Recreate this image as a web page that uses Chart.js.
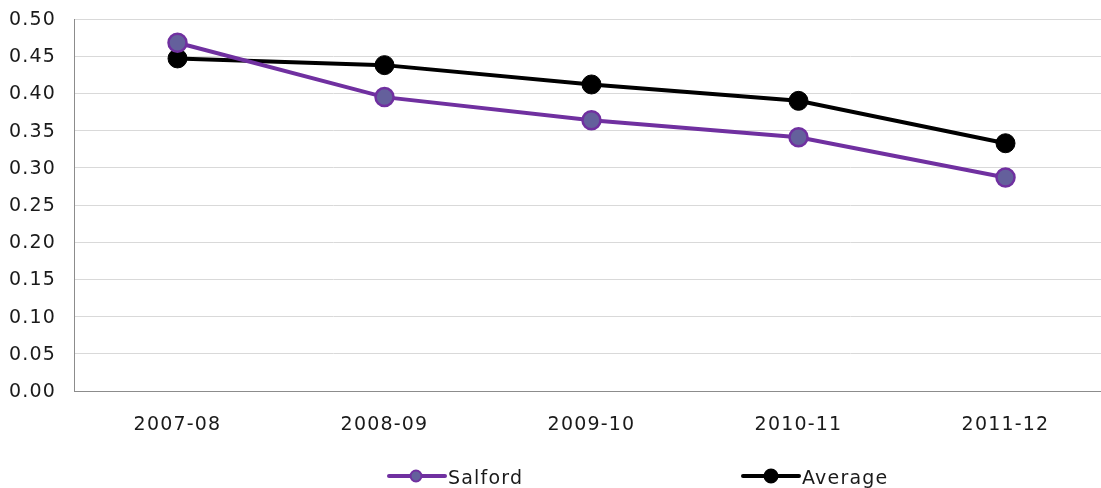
<!DOCTYPE html>
<html>
<head>
<meta charset="utf-8">
<script src="https://cdn.jsdelivr.net/npm/chart.js@4.4.0/dist/chart.umd.min.js"></script>
<style>
  html, body { margin: 0; padding: 0; background: #ffffff; overflow: hidden; }
  #wrap { position: absolute; left: 0; top: 0; width: 1110px; height: 488px; }
</style>
</head>
<body>
<div id="wrap"><canvas id="c"></canvas></div>
<script>
const categories = ['2007-08', '2008-09', '2009-10', '2010-11', '2011-12'];
const salfordValues = [0.468, 0.395, 0.364, 0.341, 0.287];
const averageValues = [0.447, 0.438, 0.412, 0.390, 0.333];
const seriesNames = ['Salford', 'Average'];

const FONT = 'DejaVu Sans, Verdana, sans-serif';
const SPACING = '1.2px';

const spacingPlugin = {
  id: 'spacing',
  beforeLayout(chart) { chart.ctx.letterSpacing = SPACING; },
  beforeDraw(chart) { chart.ctx.letterSpacing = SPACING; }
};

const legendPlugin = {
  id: 'customLegend',
  afterDraw(chart) {
    const ctx = chart.ctx;
    const items = [
      { x0: 389, x1: 445, cx: 416, tx: 448, ds: chart.data.datasets[0], r: 5.5 },
      { x0: 743, x1: 799, cx: 771, tx: 802, ds: chart.data.datasets[1], r: 6.5 }
    ];
    const y = 476;
    ctx.save();
    ctx.letterSpacing = SPACING;
    items.forEach(it => {
      ctx.strokeStyle = it.ds.borderColor;
      ctx.lineWidth = 4;
      ctx.lineCap = 'round';
      ctx.beginPath();
      ctx.moveTo(it.x0, y);
      ctx.lineTo(it.x1, y);
      ctx.stroke();
      ctx.beginPath();
      ctx.arc(it.cx, y, it.r, 0, Math.PI * 2);
      ctx.fillStyle = it.ds.pointBackgroundColor;
      ctx.fill();
      ctx.lineWidth = 2;
      ctx.strokeStyle = it.ds.pointBorderColor;
      ctx.stroke();
      ctx.fillStyle = '#1a1a1a';
      ctx.font = '19px ' + FONT;
      ctx.textAlign = 'left';
      ctx.textBaseline = 'middle';
      ctx.fillText(it.ds.label, it.tx, y + 3);
    });
    ctx.restore();
  }
};

new Chart(document.getElementById('c'), {
  type: 'line',
  data: {
    labels: categories,
    datasets: [
      {
        label: seriesNames[0],
        data: salfordValues,
        borderColor: '#7030a0',
        borderWidth: 4,
        pointRadius: 9,
        pointHoverRadius: 9,
        pointBackgroundColor: '#64609c',
        pointBorderColor: '#7030a0',
        pointBorderWidth: 2.5,
        tension: 0
      },
      {
        label: seriesNames[1],
        data: averageValues,
        borderColor: '#000000',
        borderWidth: 4,
        pointRadius: 9.5,
        pointHoverRadius: 9.5,
        pointBackgroundColor: '#000000',
        pointBorderColor: '#000000',
        pointBorderWidth: 1,
        tension: 0
      }
    ]
  },
  options: {
    responsive: true,
    maintainAspectRatio: false,
    animation: false,
    devicePixelRatio: 1,
    layout: { autoPadding: false, padding: { top: 19, right: 1, bottom: 0, left: 0 } },
    plugins: { legend: { display: false }, tooltip: { enabled: false } },
    scales: {
      x: {
        offset: true,
        grid: { display: true, color: 'rgba(0,0,0,0)', drawTicks: false },
        border: { display: true, color: '#8c8c8c', width: 1 },
        ticks: { color: '#1a1a1a', font: { family: FONT, size: 19 }, padding: 23, maxRotation: 0 },
        afterFit(scale) { scale.height = 97; scale.paddingLeft = 0; scale.paddingRight = 0; }
      },
      y: {
        min: 0,
        max: 0.5,
        grid: { color: '#d9d9d9', drawTicks: false, lineWidth: 1 },
        border: { display: true, color: '#8c8c8c', width: 1 },
        ticks: {
          stepSize: 0.05,
          color: '#1a1a1a',
          font: { family: FONT, size: 19 },
          padding: 18,
          labelOffset: 1,
          callback: v => Number(v).toFixed(2)
        },
        afterFit(scale) { scale.width = 74; scale.paddingTop = 0; scale.paddingBottom = 0; }
      }
    }
  },
  plugins: [spacingPlugin, legendPlugin]
});
</script>
</body>
</html>
